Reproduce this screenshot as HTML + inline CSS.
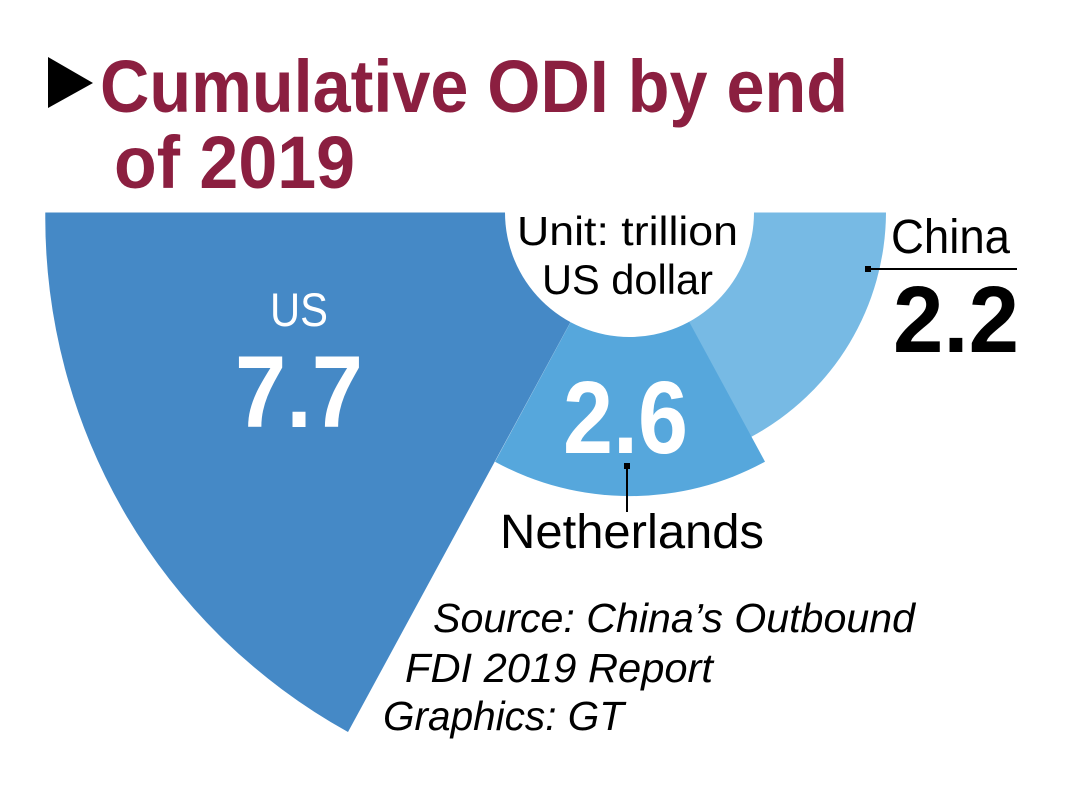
<!DOCTYPE html>
<html>
<head>
<meta charset="utf-8">
<style>
  html, body { margin: 0; padding: 0; background: #ffffff; }
  svg { display: block; }
  .t { font-family: "Liberation Sans", "DejaVu Sans", sans-serif; }
</style>
</head>
<body>
<svg width="1090" height="802" viewBox="0 0 1090 802" xmlns="http://www.w3.org/2000/svg">
  <rect x="0" y="0" width="1090" height="802" fill="#ffffff"/>

  <!-- Wedges -->
  <path d="M630,212.5 L45.3,212.5 A588,588 0 0,0 348,732 Z" fill="#4589C6"/>
  <path d="M630,212.5 L751,437 A256,256 0 0,0 886,212.5 Z" fill="#77BAE4"/>
  <path d="M630,212.5 L495,461.7 A282,282 0 0,0 765,461.7 Z" fill="#56A7DC"/>

  <!-- clip top -->
  <rect x="0" y="0" width="1090" height="212.5" fill="#ffffff"/>
  <!-- inner white circle -->
  <circle cx="629.5" cy="212.5" r="124.5" fill="#ffffff"/>

  <!-- Title -->
  <polygon points="48,57 93,83 48,108" fill="#000000"/>
  <text class="t" x="100" y="112" font-size="74" font-weight="bold" fill="#8B1F40" textLength="748" lengthAdjust="spacingAndGlyphs">Cumulative ODI by end</text>
  <text class="t" x="114" y="188" font-size="74" font-weight="bold" fill="#8B1F40" textLength="241" lengthAdjust="spacingAndGlyphs">of 2019</text>

  <!-- Unit -->
  <text class="t" x="517" y="245" font-size="41" fill="#000000" textLength="221" lengthAdjust="spacingAndGlyphs">Unit: trillion</text>
  <text class="t" x="542" y="294" font-size="42" fill="#000000" textLength="171" lengthAdjust="spacingAndGlyphs">US dollar</text>

  <!-- China -->
  <text class="t" x="891" y="253" font-size="48" fill="#000000" textLength="119" lengthAdjust="spacingAndGlyphs">China</text>
  <line x1="866" y1="269" x2="1017" y2="269" stroke="#000000" stroke-width="2"/>
  <rect x="865" y="266" width="6" height="6" fill="#000000"/>
  <text class="t" x="893" y="352" font-size="95" font-weight="bold" fill="#000000" textLength="126" lengthAdjust="spacingAndGlyphs">2.2</text>

  <!-- US -->
  <text class="t" x="270" y="326" font-size="47" fill="#ffffff" textLength="58" lengthAdjust="spacingAndGlyphs">US</text>
  <text class="t" x="235" y="427" font-size="102" font-weight="bold" fill="#ffffff" textLength="128" lengthAdjust="spacingAndGlyphs">7.7</text>

  <!-- Netherlands -->
  <text class="t" x="563" y="453" font-size="103" font-weight="bold" fill="#ffffff" textLength="125" lengthAdjust="spacingAndGlyphs">2.6</text>
  <rect x="624" y="463" width="6" height="6" fill="#000000"/>
  <line x1="627" y1="463" x2="627" y2="512" stroke="#000000" stroke-width="2"/>
  <text class="t" x="500" y="548" font-size="48" fill="#000000" textLength="264" lengthAdjust="spacingAndGlyphs">Netherlands</text>

  <!-- Source -->
  <text class="t" x="433" y="632" font-size="41" font-style="italic" fill="#000000" textLength="482" lengthAdjust="spacingAndGlyphs">Source: China’s Outbound</text>
  <text class="t" x="405" y="682" font-size="41" font-style="italic" fill="#000000" textLength="308" lengthAdjust="spacingAndGlyphs">FDI 2019 Report</text>
  <text class="t" x="383" y="730" font-size="41" font-style="italic" fill="#000000" textLength="241" lengthAdjust="spacingAndGlyphs">Graphics: GT</text>
</svg>
</body>
</html>
